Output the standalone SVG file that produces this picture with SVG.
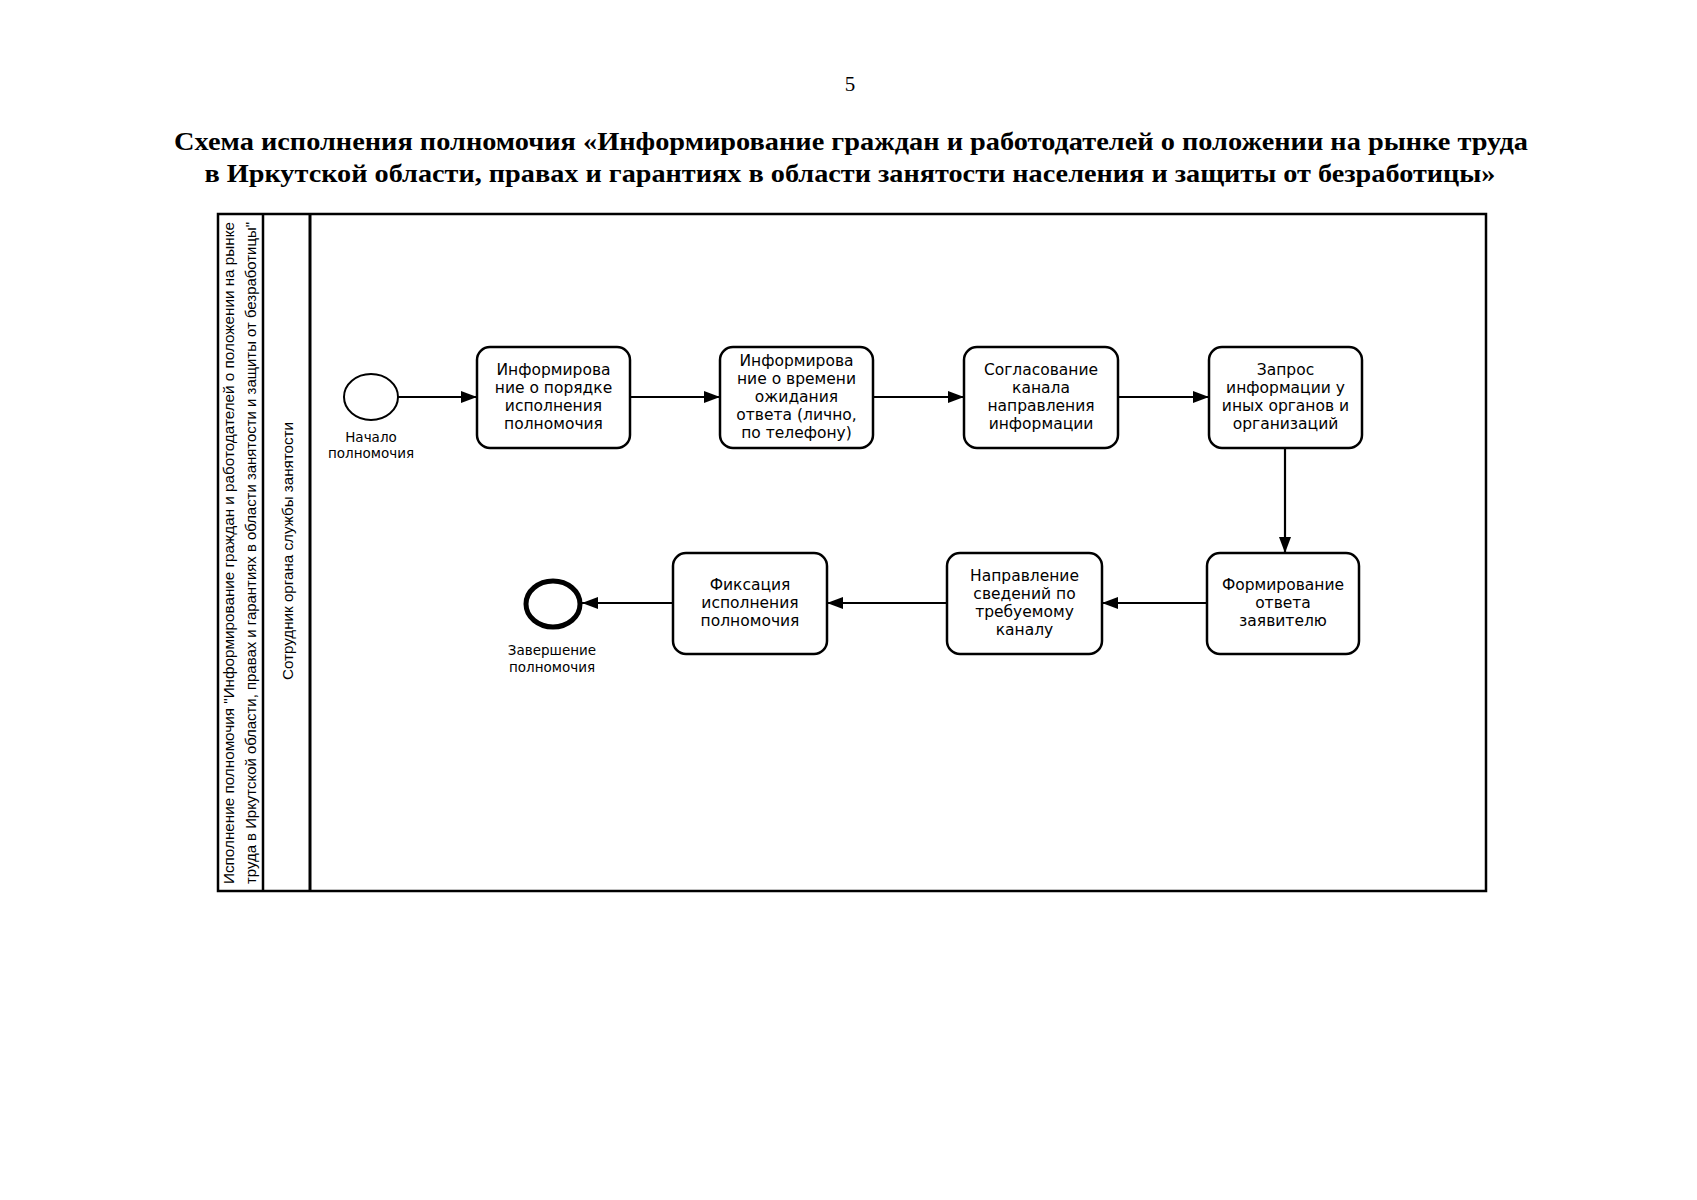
<svg xmlns="http://www.w3.org/2000/svg" width="1697" height="1200" viewBox="0 0 1697 1200">
<style>
.bg{fill:#fff}
.frame{fill:none;stroke:#000;stroke-width:2.5}
.task{fill:#fff;stroke:#000;stroke-width:2.5}
.t{font-family:"DejaVu Sans",Verdana,sans-serif;font-size:15.5px;text-anchor:middle;fill:#000}
.lbl{font-family:"DejaVu Sans",Verdana,sans-serif;font-size:13.5px;text-anchor:middle;fill:#000}
.lane{font-family:"Liberation Sans",Arial,sans-serif;font-size:15px;text-anchor:middle;fill:#000}
.title{font-family:"Liberation Serif","Times New Roman",serif;font-size:25px;font-weight:bold;text-anchor:middle;fill:#000}
.conn{fill:none;stroke:#000;stroke-width:2.2}
</style>
<defs>
<marker id="arr" viewBox="0 0 16 12" refX="16" refY="6" markerWidth="16" markerHeight="12" markerUnits="userSpaceOnUse" orient="auto">
<path d="M0,0 L16,6 L0,12 Z" fill="#000"/>
</marker>
</defs>
<rect class="bg" x="0" y="0" width="1697" height="1200"/>
<text x="850" y="91" style="font-family:'Liberation Serif',serif;font-size:21px;text-anchor:middle">5</text>
<text class="title" x="851" y="150" textLength="1354" lengthAdjust="spacingAndGlyphs">Схема исполнения полномочия «Информирование граждан и работодателей о положении на рынке труда</text>
<text class="title" x="850" y="182" textLength="1291" lengthAdjust="spacingAndGlyphs">в Иркутской области, правах и гарантиях в области занятости населения и защиты от безработицы»</text>

<g id="pool">
<rect class="frame" x="218" y="214" width="1268" height="677"/>
<line class="frame" x1="263" y1="214" x2="263" y2="891"/>
<line x1="310" y1="214" x2="310" y2="891" stroke="#000" stroke-width="3"/>
<text class="lane" transform="translate(234,553) rotate(-90)" textLength="662" lengthAdjust="spacingAndGlyphs">Исполнение полномочия "Информирование граждан и работодателей о положении на рынке</text>
<text class="lane" transform="translate(256,553) rotate(-90)" textLength="662" lengthAdjust="spacingAndGlyphs">труда в Иркутской области, правах и гарантиях в области занятости и защиты от безработицы"</text>
<text class="lane" transform="translate(293,551) rotate(-90)" textLength="258" lengthAdjust="spacingAndGlyphs">Сотрудник органа службы занятости</text>
</g>

<g id="connectors">
<line class="conn" x1="398" y1="397" x2="477" y2="397" marker-end="url(#arr)"/>
<line class="conn" x1="630" y1="397" x2="720" y2="397" marker-end="url(#arr)"/>
<line class="conn" x1="873" y1="397" x2="964" y2="397" marker-end="url(#arr)"/>
<line class="conn" x1="1118" y1="397" x2="1209" y2="397" marker-end="url(#arr)"/>
<line class="conn" x1="1285" y1="448" x2="1285" y2="553" marker-end="url(#arr)"/>
<line class="conn" x1="1207" y1="603" x2="1102" y2="603" marker-end="url(#arr)"/>
<line class="conn" x1="947" y1="603" x2="827" y2="603" marker-end="url(#arr)"/>
<line class="conn" x1="673" y1="603" x2="582" y2="603" marker-end="url(#arr)"/>
</g>

<g id="start">
<ellipse cx="371" cy="397" rx="27" ry="23" fill="#fff" stroke="#000" stroke-width="2"/>
<text class="lbl" x="371" y="442">Начало</text>
<text class="lbl" x="371" y="458">полномочия</text>
</g>

<g id="task1">
<rect class="task" x="477" y="347" width="153" height="101" rx="13"/>
<text class="t" x="553.5" y="375">Информирова</text>
<text class="t" x="553.5" y="393">ние о порядке</text>
<text class="t" x="553.5" y="411">исполнения</text>
<text class="t" x="553.5" y="429">полномочия</text>
</g>

<g id="task2">
<rect class="task" x="720" y="347" width="153" height="101" rx="13"/>
<text class="t" x="796.5" y="366">Информирова</text>
<text class="t" x="796.5" y="384">ние о времени</text>
<text class="t" x="796.5" y="402">ожидания</text>
<text class="t" x="796.5" y="420">ответа (лично,</text>
<text class="t" x="796.5" y="438">по телефону)</text>
</g>

<g id="task3">
<rect class="task" x="964" y="347" width="154" height="101" rx="13"/>
<text class="t" x="1041" y="375">Согласование</text>
<text class="t" x="1041" y="393">канала</text>
<text class="t" x="1041" y="411">направления</text>
<text class="t" x="1041" y="429">информации</text>
</g>

<g id="task4">
<rect class="task" x="1209" y="347" width="153" height="101" rx="13"/>
<text class="t" x="1285.5" y="375">Запрос</text>
<text class="t" x="1285.5" y="393">информации у</text>
<text class="t" x="1285.5" y="411">иных органов и</text>
<text class="t" x="1285.5" y="429">организаций</text>
</g>

<g id="task5">
<rect class="task" x="1207" y="553" width="152" height="101" rx="13"/>
<text class="t" x="1283" y="590">Формирование</text>
<text class="t" x="1283" y="608">ответа</text>
<text class="t" x="1283" y="626">заявителю</text>
</g>

<g id="task6">
<rect class="task" x="947" y="553" width="155" height="101" rx="13"/>
<text class="t" x="1024.5" y="581">Направление</text>
<text class="t" x="1024.5" y="599">сведений по</text>
<text class="t" x="1024.5" y="617">требуемому</text>
<text class="t" x="1024.5" y="635">каналу</text>
</g>

<g id="task7">
<rect class="task" x="673" y="553" width="154" height="101" rx="13"/>
<text class="t" x="750" y="590">Фиксация</text>
<text class="t" x="750" y="608">исполнения</text>
<text class="t" x="750" y="626">полномочия</text>
</g>

<g id="end">
<ellipse cx="553" cy="604" rx="27" ry="23" fill="#fff" stroke="#000" stroke-width="5"/>
<text class="lbl" x="552" y="655">Завершение</text>
<text class="lbl" x="552" y="672">полномочия</text>
</g>
</svg>
